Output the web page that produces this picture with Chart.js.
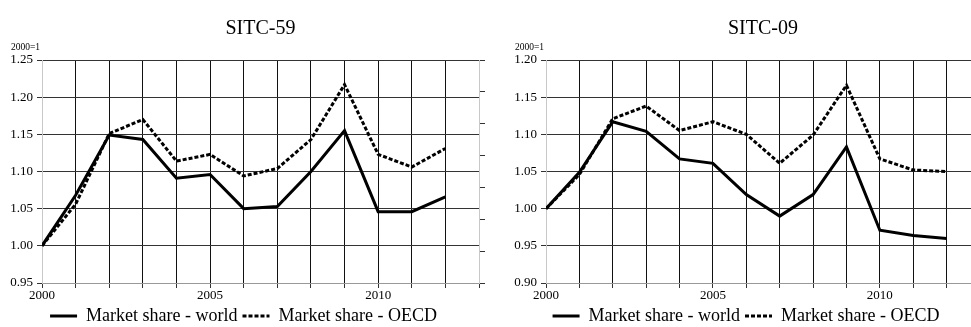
<!DOCTYPE html>
<html>
<head>
<meta charset="utf-8">
<script src="https://cdn.jsdelivr.net/npm/chart.js@4.4.1/dist/chart.umd.min.js"></script>
<style>
  html, body { margin: 0; padding: 0; background: #fff; }
  #wrap { position: relative; width: 971px; height: 327px; overflow: hidden; }
  canvas { position: absolute; top: 0; }
  #chart59 { left: 0; }
  #chart09 { left: 504px; }
</style>
</head>
<body>
<div id="wrap">
  <canvas id="chart59" width="487" height="327"></canvas>
  <canvas id="chart09" width="484" height="327"></canvas>
</div>
<script>
// Data (index 2000 = 1)
const years = [2000, 2001, 2002, 2003, 2004, 2005, 2006, 2007, 2008, 2009, 2010, 2011, 2012];
const xTickLabels = [2000, 2005, 2010];

const sitc59World = [1.000, 1.068, 1.149, 1.143, 1.091, 1.096, 1.050, 1.053, 1.100, 1.155, 1.046, 1.046, 1.066];
const sitc59Oecd  = [1.000, 1.056, 1.151, 1.170, 1.114, 1.123, 1.094, 1.104, 1.143, 1.217, 1.123, 1.106, 1.131];
const sitc59YTicks = [0.95, 1.00, 1.05, 1.10, 1.15, 1.20, 1.25];

const sitc09World = [1.000, 1.049, 1.117, 1.104, 1.067, 1.061, 1.019, 0.990, 1.019, 1.083, 0.971, 0.964, 0.960];
const sitc09Oecd  = [1.000, 1.046, 1.121, 1.138, 1.105, 1.117, 1.100, 1.061, 1.099, 1.166, 1.067, 1.052, 1.050];
const sitc09YTicks = [0.90, 0.95, 1.00, 1.05, 1.10, 1.15, 1.20];

const seriesLabels = ['Market share - world', 'Market share - OECD'];
const unitLabel = '2000=1';

const serif = "'Liberation Serif', 'DejaVu Serif', 'Times New Roman', serif";

// title above the plot area and the small unit note over the y axis
const headerPlugin = {
    id: 'header',
    afterDraw(chart, args, opts) {
        const ctx = chart.ctx;
        const area = chart.chartArea;
        ctx.save();
        ctx.fillStyle = '#000';
        ctx.textBaseline = 'alphabetic';
        ctx.textAlign = 'center';
        ctx.font = '20px ' + serif;
        ctx.fillText(opts.title, (area.left + area.right) / 2, 34);
        ctx.textAlign = 'left';
        ctx.font = '9.5px ' + serif;
        ctx.fillText(opts.unit, area.left - 31, 50);
        ctx.restore();
    }
};

function pairs(values) {
    return years.map((y, i) => ({ x: y, y: values[i] }));
}

function makeChart(id, title, world, oecd, yTicks) {
    return new Chart(document.getElementById(id), {
        type: 'line',
        data: {
            datasets: [{
                label: seriesLabels[0],
                data: pairs(world),
                borderColor: '#000',
                backgroundColor: '#000',
                borderWidth: 3,
                pointRadius: 0,
                tension: 0,
                yAxisID: 'y'
            }, {
                label: seriesLabels[1],
                data: pairs(oecd),
                borderColor: '#000',
                backgroundColor: '#000',
                borderWidth: 3,
                borderDash: [4, 2],
                pointRadius: 0,
                tension: 0,
                yAxisID: 'y'
            }]
        },
        plugins: [headerPlugin],
        options: {
            responsive: false,
            animation: false,
            layout: { padding: { top: 60, left: 0, right: 0, bottom: -8 } },
            scales: {
                x: {
                    type: 'linear',
                    min: 2000,
                    max: 2013,
                    afterBuildTicks: (scale) => {
                        const t = [];
                        for (let v = 2000; v <= 2013; v++) t.push({ value: v });
                        scale.ticks = t;
                    },
                    afterFit: (scale) => { scale.height = 19; },
                    grid: {
                        color: (c) => (c.tick && (c.tick.value === 2000 || c.tick.value === 2013)) ? '#c8c8c8' : '#111',
                        lineWidth: 1,
                        tickLength: 5,
                        tickColor: '#333'
                    },
                    border: { color: '#999' },
                    ticks: {
                        autoSkip: false,
                        maxRotation: 0,
                        padding: 0,
                        color: '#000',
                        font: { family: serif, size: 13 },
                        callback: (v) => xTickLabels.includes(v) ? String(v) : ''
                    }
                },
                y: {
                    position: 'left',
                    min: yTicks[0],
                    max: yTicks[yTicks.length - 1],
                    afterBuildTicks: (scale) => { scale.ticks = yTicks.map(v => ({ value: v })); },
                    afterFit: (scale) => { scale.width = 42; },
                    grid: { color: '#333', lineWidth: 1, tickLength: 5 },
                    border: { color: '#c8c8c8' },
                    ticks: {
                        padding: 4,
                        color: '#000',
                        font: { family: serif, size: 13 },
                        callback: (v) => Number(v).toFixed(2)
                    }
                },
                y2: {
                    position: 'right',
                    min: 0,
                    max: 7,
                    ticks: { stepSize: 1, callback: () => '' },
                    afterFit: (scale) => { scale.width = 8; },
                    grid: { drawOnChartArea: false, tickLength: 6, color: '#333' },
                    border: { color: '#c8c8c8' }
                }
            },
            plugins: {
                header: { title: title, unit: unitLabel },
                title: { display: false },
                tooltip: { enabled: false },
                legend: {
                    position: 'bottom',
                    labels: {
                        usePointStyle: true,
                        pointStyle: 'line',
                        pointStyleWidth: 27,
                        padding: 5,
                        color: '#000',
                        font: { family: serif, size: 18 },
                        generateLabels: (chart) => {
                            const items = Chart.defaults.plugins.legend.labels.generateLabels(chart);
                            items.forEach((item) => {
                                const ds = chart.data.datasets[item.datasetIndex];
                                item.lineDash = ds.borderDash || [];
                                item.lineWidth = 3;
                                item.strokeStyle = '#000';
                            });
                            return items;
                        }
                    }
                }
            }
        }
    });
}

makeChart('chart59', 'SITC-59', sitc59World, sitc59Oecd, sitc59YTicks);
makeChart('chart09', 'SITC-09', sitc09World, sitc09Oecd, sitc09YTicks);
</script>
</body>
</html>
